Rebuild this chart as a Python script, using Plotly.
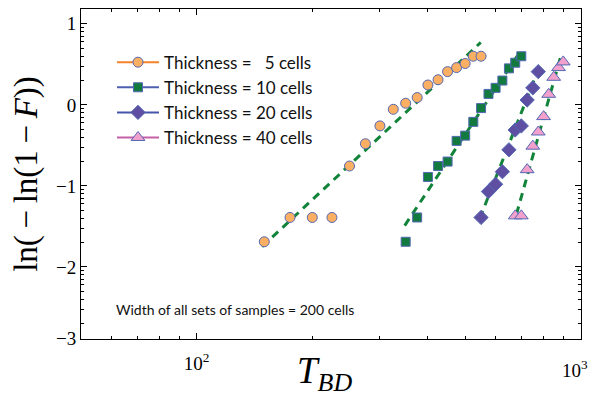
import math
import plotly.graph_objects as go

# ---------------- data ----------------
t5_x = [150, 175, 200, 225, 250, 275, 300, 325, 350, 375, 400, 425, 450, 475, 500, 525, 550]
t5_y = [-1.69, -1.39, -1.39, -1.39, -0.755, -0.48, -0.26, -0.055, 0.02, 0.09, 0.245, 0.31, 0.41, 0.46, 0.51, 0.60, 0.60]

t10_x = [350, 375, 400, 425, 450, 475, 500, 525, 550, 575, 600, 625, 650, 675, 700]
t10_y = [-1.69, -1.39, -0.89, -0.755, -0.70, -0.445, -0.38, -0.21, -0.04, 0.135, 0.21, 0.30, 0.45, 0.52, 0.60]

t20_x = [550, 575, 600, 625, 650, 675, 700, 725, 750, 775]
t20_y = [-1.39, -1.07, -0.98, -0.825, -0.555, -0.31, -0.26, 0.06, 0.21, 0.41]

t40_x = [675, 700, 725, 750, 775, 800, 825, 850, 875, 900]
t40_y = [-1.37, -1.37, -0.80, -0.51, -0.335, -0.145, 0.13, 0.34, 0.46, 0.53]

# Weibull fit lines (end points)
fit5_x, fit5_y = [148, 549], [-1.75, 0.77]
fit10_x, fit10_y = [348, 696], [-1.49, 0.66]
fit20_x, fit20_y = [546, 780], [-1.40, 0.47]
fit40_x, fit40_y = [680, 892], [-1.35, 0.64]

labels = ["Thickness =   5 cells", "Thickness = 10 cells", "Thickness = 20 cells", "Thickness = 40 cells"]
x_tick_vals = [100, 1000]
x_tick_text = ["10<sup>2</sup>", ""]
x_last_label = "10<sup>3</sup>"
y_tick_vals = [-2.885, -2, -1, 0, 1]
y_tick_text = ["\u22123", "\u22122", "\u22121", "0", "1"]

# ---------------- styles ----------------
EDGE = "#5468B4"
FIT = "#12843A"
series = [
    (t5_x, t5_y, "circle", "#FBAF63", 10, "#F4822A"),
    (t10_x, t10_y, "square", "#137A3F", 9, "#4F5FB0"),
    (t20_x, t20_y, "diamond", "#5E4FA2", 11, "#4555AA"),
    (t40_x, t40_y, "triangle-up", "#F2A0CC", 12, "#C560A8"),
]
fits = [(fit5_x, fit5_y), (fit10_x, fit10_y), (fit20_x, fit20_y), (fit40_x, fit40_y)]

fig = go.Figure()

for fx, fy in fits:
    fig.add_trace(go.Scatter(x=fx, y=fy, mode="lines", showlegend=False, hoverinfo="skip",
                             line=dict(color=FIT, width=3, dash="8px,6px")))

for i, (sx, sy, sym, fill, size, lcol) in enumerate(series):
    fig.add_trace(go.Scatter(x=sx, y=sy, mode="markers", showlegend=False,
                             marker=dict(symbol=sym, size=size, color=fill,
                                         line=dict(color=EDGE, width=1))))

for i, (sx, sy, sym, fill, size, lcol) in enumerate(series):
    fig.add_trace(go.Scatter(x=[None], y=[None], mode="lines+markers", name=labels[i],
                             legendgroup=f"g{i}",
                             line=dict(color=lcol, width=2),
                             marker=dict(symbol=sym, size=size, color=fill,
                                         line=dict(color=EDGE, width=1))))

minor_y = [n + math.log10(k) for n in range(-3, 1) for k in range(2, 10)]
minor_x = [k * 10 for k in range(6, 10)] + [k * 100 for k in range(2, 10)]

fig.add_annotation(x=0.065, y=0.09, xref="paper", yref="paper", xanchor="left", yanchor="middle",
                   text="Width of all sets of samples = 200 cells", showarrow=False,
                   font=dict(family="Lato", size=14, color="#111111"))

# last x tick label, kept inside the page
fig.add_annotation(x=1.016, y=-0.05, xref="paper", yref="paper", xanchor="right", yanchor="top",
                   text=x_last_label, showarrow=False, borderpad=0,
                   font=dict(family="Liberation Serif", size=19, color="black"))

# x-axis title
fig.add_annotation(x=0.486, y=-0.105, xref="paper", yref="paper", xanchor="center", yanchor="middle",
                   text="<i>T</i><sub><i>BD</i></sub>", showarrow=False,
                   font=dict(family="Liberation Serif", size=37, color="black"))

fig.update_layout(
    width=589, height=396,
    margin=dict(l=81, r=8, t=9, b=57),
    paper_bgcolor="white", plot_bgcolor="white",
    showlegend=True,
    legend=dict(x=0.062, y=0.892, xanchor="left", yanchor="top", itemwidth=42,
                bgcolor="rgba(0,0,0,0)", tracegroupgap=0,
                font=dict(family="Lato", size=17, color="#111111")),
    xaxis=dict(type="log", range=[math.log10(50), 3.0005], automargin=False,
               tickmode="array", tickvals=x_tick_vals, ticktext=x_tick_text,
               ticklabelstandoff=7,
               ticks="inside", ticklen=6, tickcolor="black", showgrid=False, zeroline=False,
               showline=True, linecolor="black", linewidth=1, mirror="ticks",
               tickfont=dict(family="Liberation Serif", size=19, color="black"),
               minor=dict(tickvals=minor_x, ticks="inside", ticklen=3, tickcolor="black")),
    yaxis=dict(range=[-2.89, 1.183], automargin=False,
               tickmode="array", tickvals=y_tick_vals, ticktext=y_tick_text,
               ticklabeloverflow="allow",
               ticks="inside", ticklen=6, tickcolor="black", showgrid=False, zeroline=False,
               showline=True, linecolor="black", linewidth=1, mirror="ticks",
               tickfont=dict(family="Liberation Serif", size=19, color="black"),
               minor=dict(tickvals=minor_y, ticks="inside", ticklen=3, tickcolor="black"),
               title=dict(text="ln(\u2009\u2212\u2009ln(1\u2009\u2212\u2009<i>F</i>))", standoff=8,
                          font=dict(family="Liberation Serif", size=33, color="black"))),
)

fig.write_html("out.html")
